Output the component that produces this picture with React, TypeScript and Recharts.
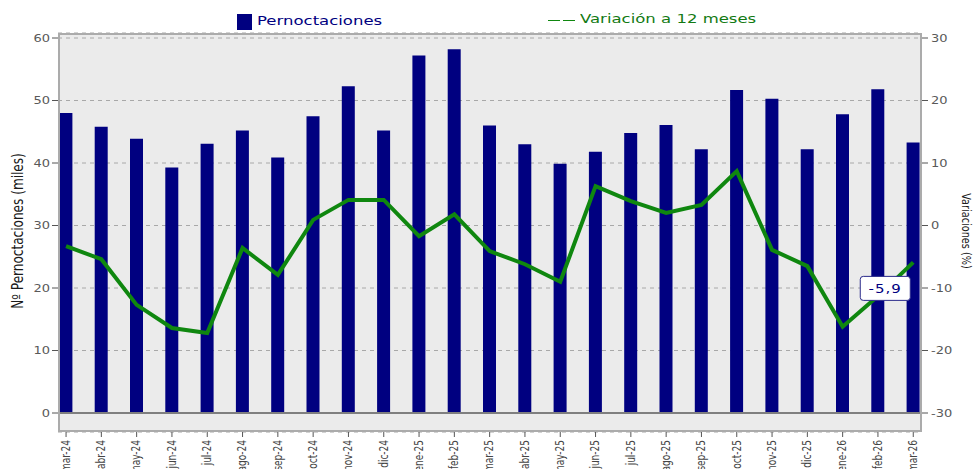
import React from 'react';
import { ComposedChart, Bar, Line, XAxis, YAxis, CartesianGrid, ReferenceLine, LabelList } from 'recharts';

const months = ['mar-24', 'abr-24', 'may-24', 'jun-24', 'jul-24', 'ago-24', 'sep-24', 'oct-24', 'nov-24', 'dic-24', 'ene-25', 'feb-25', 'mar-25', 'abr-25', 'may-25', 'jun-25', 'jul-25', 'ago-25', 'sep-25', 'oct-25', 'nov-25', 'dic-25', 'ene-26', 'feb-26', 'mar-26'];
const pernoctaciones = [48.0, 45.8, 43.9, 39.3, 43.1, 45.2, 40.9, 47.5, 52.3, 45.2, 57.2, 58.2, 46.0, 43.0, 39.9, 41.8, 44.8, 46.1, 42.2, 51.7, 50.3, 42.2, 47.8, 51.8, 43.3];
const variacion = [-3.3, -5.4, -12.7, -16.4, -17.2, -3.6, -7.9, 0.9, 4.1, 4.1, -1.7, 1.8, -4.1, -6.2, -9.0, 6.3, 3.9, 2.0, 3.3, 8.7, -3.9, -6.5, -16.2, -11.3, -5.9];
const leftTicks = [0, 10, 20, 30, 40, 50, 60];
const rightTicks = [-30, -20, -10, 0, 10, 20, 30];

const data = months.map((m, i) => ({ month: m, p: pernoctaciones[i], v: variacion[i] }));

const NAVY = '#000080';
const GREEN = '#0f870f';
const FONT = "'DejaVu Sans', Verdana, sans-serif";
const SQ = 0.78;

const XTick = (props: any) => {
  const { x, y, payload } = props;
  return (
    <g transform={`translate(${x},${y}) rotate(-90) scale(0.72,1)`}>
      <text x={0} y={0} dy="0.3em" textAnchor="end" fill="#444" fontSize={12.5} fontFamily={FONT}>
        {payload.value}
      </text>
    </g>
  );
};

const YTick = (props: any) => {
  const { x, y, payload, textAnchor } = props;
  return (
    <g transform={`translate(${x},${y}) scale(1,0.82)`}>
      <text x={0} y={0} dy="0.36em" textAnchor={textAnchor} fill="#595959" fontSize={13} fontFamily={FONT}>
        {payload.value}
      </text>
    </g>
  );
};

const LastLabel = (props: any) => {
  const { x, y, value, index } = props;
  if (index !== variacion.length - 1) return null;
  const bx = x - 53;
  const by = y + 14;
  return (
    <g>
      <rect x={bx} y={by} width={50} height={24} rx={3} ry={3} fill="#fff" stroke="#2a2a8a" strokeWidth={1} />
      <g transform={`translate(${bx + 25},${by + 12}) scale(1,0.8)`}>
        <text x={0} y={0} dy="0.36em" textAnchor="middle" fill={NAVY} fontSize={15} letterSpacing={1} fontFamily={FONT}>
          {String(value).replace('.', ',')}
        </text>
      </g>
    </g>
  );
};

export default function App() {
  return (
    <div style={{ position: 'absolute', left: 0, top: 0, width: 974, height: 469, background: '#fff', overflow: 'hidden' }}>
      <ComposedChart width={974} height={469} data={data} margin={{ top: 33, right: 0, bottom: 0, left: 0 }}>
        <CartesianGrid yAxisId="left" vertical={false} stroke="#a8a8a8" strokeDasharray="4 4" fill="#ebebeb" />
        <XAxis
          dataKey="month"
          height={37}
          interval={0}
          padding={{ left: -9.6, right: -8.9 }}
          axisLine={false}
          tickLine={{ stroke: '#555' }}
          tickSize={5}
          tickMargin={3}
          tick={<XTick />}
        />
        <YAxis
          yAxisId="left"
          width={58}
          domain={[0, 60]}
          ticks={leftTicks}
          padding={{ top: 5, bottom: 19 }}
          axisLine={false}
          tickLine={{ stroke: '#555' }}
          tickSize={6}
          tickMargin={2}
          tick={<YTick />}
          label={{
            content: () => (
              <g transform={`translate(18,231) rotate(-90) scale(${SQ},1)`}>
                <text x={0} y={0} dy="0.35em" textAnchor="middle" fill="#1a1a1a" fontSize={15.5} fontFamily={FONT}>
                  Nº Pernoctaciones (miles)
                </text>
              </g>
            ),
          }}
        />
        <YAxis
          yAxisId="right"
          orientation="right"
          width={52}
          domain={[-30, 30]}
          ticks={rightTicks}
          padding={{ top: 5, bottom: 19 }}
          axisLine={false}
          tickLine={{ stroke: '#555' }}
          tickSize={6}
          tickMargin={3}
          tick={<YTick />}
          label={{
            content: () => (
              <g transform={`translate(966,231) rotate(90) scale(${SQ},1)`}>
                <text x={0} y={0} dy="0.35em" textAnchor="middle" fill="#1a1a1a" fontSize={12.5} fontFamily={FONT}>
                  Variaciones (%)
                </text>
              </g>
            ),
          }}
        />
        <Bar yAxisId="left" dataKey="p" fill={NAVY} barSize={13} isAnimationActive={false} />
        <ReferenceLine yAxisId="left" y={0} stroke="#7f7f7f" strokeWidth={2} />
        <Line
          yAxisId="right"
          dataKey="v"
          stroke={GREEN}
          strokeWidth={4}
          dot={false}
          activeDot={false}
          isAnimationActive={false}
        >
          <LabelList dataKey="v" content={<LastLabel />} />
        </Line>
      </ComposedChart>
      <div style={{ position: 'absolute', left: 58, top: 33, width: 864, height: 399, border: '2px solid #ababab', boxSizing: 'border-box', pointerEvents: 'none' }} />
      <div style={{ position: 'absolute', left: 237, top: 14, width: 15, height: 16, background: NAVY }} />
      <div style={{ position: 'absolute', left: 257, top: 11, fontFamily: FONT, fontSize: 16.5, color: NAVY, lineHeight: '20px', transform: `scaleY(${SQ})`, transformOrigin: 'left center', whiteSpace: 'nowrap' }}>
        Pernoctaciones
      </div>
      <div style={{ position: 'absolute', left: 548, top: 20, width: 12, height: 1, background: GREEN }} />
      <div style={{ position: 'absolute', left: 563, top: 20, width: 12, height: 1, background: GREEN }} />
      <div style={{ position: 'absolute', left: 580, top: 9, fontFamily: FONT, fontSize: 16.5, color: '#137a13', lineHeight: '20px', transform: `scaleY(${SQ})`, transformOrigin: 'left center', whiteSpace: 'nowrap' }}>
        Variación a 12 meses
      </div>
    </div>
  );
}
